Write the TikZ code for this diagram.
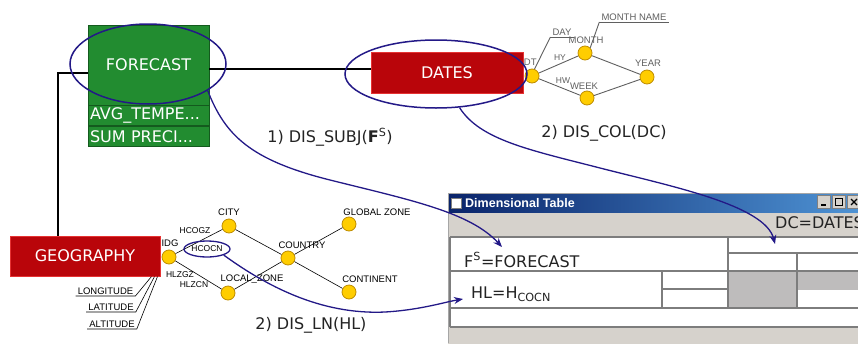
\documentclass[tikz,border=0pt]{standalone}
\usepackage{fontspec}
\setmainfont{DejaVu Sans}
\newfontfamily\lib{Liberation Sans}
\usetikzlibrary{arrows.meta,shapes.geometric}
\definecolor{fcgreen}{RGB}{34,140,48}
\definecolor{fcline}{RGB}{20,90,30}
\definecolor{boxred}{RGB}{185,5,10}
\definecolor{boxredl}{RGB}{230,50,50}
\definecolor{ellblue}{RGB}{35,25,135}
\definecolor{dotyel}{RGB}{255,205,0}
\definecolor{dotedge}{RGB}{190,140,0}
\definecolor{hgray}{RGB}{95,95,95}
\definecolor{winbg}{RGB}{214,210,204}
\definecolor{gridc}{RGB}{125,125,125}
\definecolor{cellshade}{RGB}{190,188,188}
\definecolor{titleA}{RGB}{10,36,106}
\definecolor{titleB}{RGB}{80,150,215}
\definecolor{txt}{RGB}{35,35,35}
\begin{document}
\begin{tikzpicture}[x=1pt,y=-1pt,
  greenbox/.style={rectangle, fill=fcgreen, draw=fcline, line width=0.7pt, inner sep=0pt, text=white, font=\fontsize{16}{18}\selectfont},
  redbox/.style={rectangle, fill=boxred, draw=boxredl, line width=1pt, inner sep=0pt, text=white, font=\fontsize{16}{18}\selectfont},
  ydot/.style={circle, fill=dotyel, draw=dotedge, line width=0.8pt, minimum size=14pt, inner sep=0pt},
  hlab/.style={font=\lib\fontsize{9.5}{11}\selectfont, inner sep=0pt},
  dlab/.style={hlab, text=hgray},
  elab/.style={font=\lib\fontsize{8.5}{10}\selectfont, inner sep=0pt},
  alab/.style={font=\lib\fontsize{9.5}{11}\selectfont, inner xsep=2pt, inner ysep=1.2pt},
  geoedge/.style={draw=black, line width=0.6pt},
  datedge/.style={draw=hgray, line width=0.9pt},
  ring/.style={ellipse, draw=ellblue, line width=1.5pt, inner sep=0pt},
  link/.style={draw=ellblue, line width=1.3pt, -{Stealth[length=9pt,width=7pt]}},
  bigtxt/.style={font=\fontsize{16}{18}\selectfont, text=txt, inner sep=0pt},
  tgrid/.style={draw=gridc, line width=1.4pt},
  btn/.style={rectangle, fill=winbg, draw=gray, line width=0.6pt, minimum width=13pt, minimum height=13pt, inner sep=0pt}
]
\useasboundingbox (0,0) rectangle (858,343);
\clip (0,0) rectangle (858,343);

% ---------- Dimensional Table window ----------
\fill[winbg] (448,193) rectangle (870,350);
\shade[left color=titleA, right color=titleB] (449,194) rectangle (870,212);
\node[rectangle, draw=gray, fill=white, minimum size=10pt, inner sep=0pt] (icon) at (456,203) {};
\node[anchor=west, text=white, font=\lib\bfseries\fontsize{12.5}{14}\selectfont, inner sep=0pt] (title) at (465,203.5) {Dimensional Table};
\node[btn] (bmin) at (824,202) {};
\node[btn] (bmax) at (839,202) {};
\node[btn] (bcls) at (854,202) {};
\draw[line width=1.6pt] ([xshift=-3pt,yshift=-3pt]bmin.center) -- ++(5,0);
\draw[line width=0.8pt] ([xshift=-3.5pt,yshift=-3.5pt]bmax.center) rectangle ([xshift=3.5pt,yshift=3.5pt]bmax.center);
\draw[line width=1.2pt] ([xshift=-3pt,yshift=-3pt]bcls.center) -- ([xshift=3pt,yshift=3pt]bcls.center);
\draw[line width=1.2pt] ([xshift=-3pt,yshift=3pt]bcls.center) -- ([xshift=3pt,yshift=-3pt]bcls.center);
\draw[gray!70, line width=1pt] (448.5,343) -- (448.5,193.5) -- (870,193.5);
\node[bigtxt, anchor=west] (dctext) at (775,223) {DC=DATES};
\fill[white] (450,237) rectangle (870,327);
\fill[cellshade] (728,271) rectangle (797,308);
\fill[cellshade] (797,271) rectangle (870,290);
\draw[tgrid] (450,237) -- (870,237);
\draw[tgrid] (450,271) -- (870,271);
\draw[tgrid] (450,308) -- (870,308);
\draw[tgrid] (450,327) -- (870,327);
\draw[tgrid] (450,237) -- (450,327);
\draw[tgrid] (728,253) -- (870,253);
\draw[tgrid] (662,289) -- (728,289);
\draw[tgrid] (728,237) -- (728,308);
\draw[tgrid] (662,271) -- (662,308);
\draw[tgrid] (797,253) -- (797,308);
\node[bigtxt, anchor=west] (fstext) at (464,260) {F\textsuperscript{S}=FORECAST};
\node[bigtxt, anchor=west] (hltext) at (471,294) {HL=H\textsubscript{COCN}};

% ---------- DATES hierarchy ----------
\node[ydot] (idt) at (532,76) {};
\node[ydot] (month) at (585,53) {};
\node[ydot] (year) at (647,77) {};
\node[ydot] (week) at (587,98) {};
\draw[datedge] (idt) -- (month);
\draw[datedge] (idt) -- (week);
\draw[datedge] (month) -- (year);
\draw[datedge] (week) -- (year);
\node[dlab] (idtl) at (529,62) {IDT};
\node[dlab] (monthl) at (586,40) {MONTH};
\node[dlab] (yearl) at (648,63) {YEAR};
\node[dlab] (weekl) at (584,86) {WEEK};
\node[dlab, font=\lib\fontsize{8.5}{10}\selectfont] (hy) at (560,58) {HY};
\node[dlab, font=\lib\fontsize{8.5}{10}\selectfont] (hw) at (563,81) {HW};
\node[alab, text=hgray, anchor=south] (day) at (562,37) {DAY};
\node[alab, text=hgray, anchor=south] (mname) at (634,22) {MONTH NAME};
\draw[datedge] (day.south west) -- (day.south east);
\draw[datedge] (mname.south west) -- (mname.south east);
\draw[datedge] (idt.70) -- (day.south west);
\draw[datedge] (month.45) -- (mname.south west);

% ---------- GEOGRAPHY hierarchy ----------
\node[ydot] (idg) at (169,257) {};
\node[ydot] (city) at (229,226) {};
\node[ydot] (country) at (288,258) {};
\node[ydot] (gzone) at (349,224) {};
\node[ydot] (cont) at (349,292) {};
\node[ydot] (lzone) at (228,293) {};
\draw[geoedge] (idg) -- (city);
\draw[geoedge] (idg) -- (lzone);
\draw[geoedge] (city) -- (country);
\draw[geoedge] (lzone) -- (country);
\draw[geoedge] (country) -- (gzone);
\draw[geoedge] (country) -- (cont);
\node[hlab] (idgl) at (170,243) {IDG};
\node[hlab] (cityl) at (229,212) {CITY};
\node[hlab] (countryl) at (302,245) {COUNTRY};
\node[hlab] (gzonel) at (377,212) {GLOBAL ZONE};
\node[hlab] (contl) at (370,279) {CONTINENT};
\node[hlab] (lzonel) at (252,279) {LOCAL\_ZONE};
\node[elab] (hcogz) at (195,231) {HCOGZ};
\node[elab] (hlzgz) at (180,275) {HLZGZ};
\node[elab] (hlzcn) at (194,285) {HLZCN};
\node[alab, anchor=south] (lon) at (105.5,296) {LONGITUDE};
\node[alab, anchor=south] (lat) at (111,312) {LATITUDE};
\node[alab, anchor=south] (alt) at (112,329) {ALTITUDE};

% ---------- boxes ----------
\node[greenbox, minimum width=121pt, minimum height=80pt] (fc) at (148.5,65) {FORECAST};
\node[greenbox, minimum width=121pt, minimum height=20pt, text width=117pt, inner xsep=2pt, align=left, anchor=north] (fcA) at (fc.south) {AVG\_TEMPE...};
\node[greenbox, minimum width=121pt, minimum height=20pt, text width=117pt, inner xsep=2pt, align=left, anchor=north] (fcB) at (fcA.south) {SUM PRECI...};
\node[redbox, minimum width=152pt, minimum height=41pt] (dates) at (447,72.5) {DATES};
\node[redbox, minimum width=150pt, minimum height=40pt] (geo) at (85,256) {GEOGRAPHY};

\draw[line width=0.6pt] (lon.south west) -- (lon.south east) -- ([xshift=-9pt]geo.south east);
\draw[line width=0.6pt] (lat.south west) -- (lat.south east) -- ([xshift=-6pt]geo.south east);
\draw[line width=0.6pt] (alt.south west) -- (alt.south east) -- ([xshift=-3pt]geo.south east);

% ---------- connectors between boxes ----------
\coordinate (topy) at (0,69);
\coordinate (kink) at (58,73);
\draw[line width=1.5pt] (fc.east |- topy) -- (dates.west |- topy);
\draw[line width=2pt] (fc.west |- kink) -- (kink) -- (kink |- geo.north);

% ---------- rings and links ----------
\node[ring, minimum width=156pt, minimum height=80pt] (fcring) at (148,64) {};
\node[ring, minimum width=182pt, minimum height=68pt] (datring) at (436,74) {};
\node[ring, elab, line width=1.3pt, minimum width=46pt, minimum height=16pt] (hcocn) at (207,249) {HCOCN};

\coordinate (fsin) at (502,247);
\coordinate (dcin) at (775,244);
\coordinate (hlin) at (463,299);
\draw[link] (fcring.-24) .. controls (225,135) and (250,160) .. (330,180) .. controls (410,200) and (470,212) .. (fsin);
\draw[link] (datring.-55) .. controls (480,140) and (530,150) .. (600,168) .. controls (670,186) and (765,205) .. (dcin);
\draw[link] (hcocn.-20) .. controls (265,285) and (320,315) .. (385,312) .. controls (420,310) and (445,302) .. (hlin);

% ---------- operation labels ----------
\node[bigtxt] (op1) at (330,137) {1) DIS\_SUBJ(\textbf{F}\textsuperscript{S})};
\node[bigtxt] (op2) at (604,133) {2) DIS\_COL(DC)};
\node[bigtxt] (op3) at (311,325) {2) DIS\_LN(HL)};
\end{tikzpicture}
\end{document}
